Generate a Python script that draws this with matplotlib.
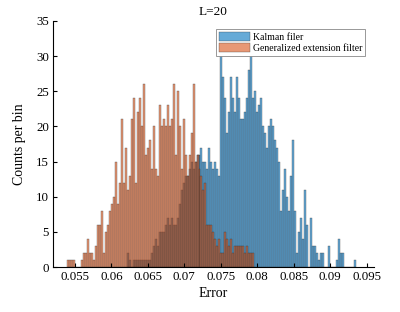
import matplotlib
matplotlib.use('Agg')
import matplotlib.pyplot as plt
import numpy as np

plt.rcParams['font.family'] = ['Liberation Serif', 'DejaVu Serif']

# histogram bins (both series share the same bin grid)
bin_start = 0.05386
bin_width = 0.000274

# Generalized extension filter counts, bins 0..93
gef_counts = [1, 1, 1, 1, 0, 0, 0, 1, 2, 2, 4, 2, 2, 1, 3, 6, 6, 8, 2, 5,
              6, 8, 9, 10, 15, 9, 12, 21, 12, 17, 11, 13, 21, 24, 12, 22, 24, 20, 26, 16,
              17, 18, 14, 20, 14, 13, 23, 20, 21, 20, 23, 20, 21, 26, 16, 25, 20, 14, 21, 16,
              13, 16, 19, 26, 15, 16, 14, 13, 11, 12, 6, 6, 6, 5, 4, 3, 4, 2, 2, 5,
              4, 3, 4, 2, 3, 3, 3, 3, 3, 2, 3, 2, 2, 2]
gef_first_bin = 0

# Kalman filer counts, starting at bin 30
kf_counts = [2, 1, 0, 1, 1, 1, 1, 1, 1, 1, 1, 1, 2, 3, 4, 3, 5, 5, 5, 6,
             7, 6, 7, 6, 6, 7, 9, 11, 12, 13, 13, 14, 15, 14, 15, 16, 16, 17, 15, 15,
             14, 17, 15, 14, 15, 14, 13, 32, 27, 24, 19, 22, 27, 24, 22, 27, 24, 21, 21, 22,
             24, 28, 30, 24, 25, 22, 23, 24, 20, 19, 17, 20, 21, 20, 18, 17, 15, 8, 11, 14,
             10, 8, 13, 18, 8, 2, 5, 7, 4, 11, 6, 0, 7, 3, 3, 2, 1, 2, 2, 0,
             0, 3, 0, 0, 0, 1, 4, 2, 2, 0, 0, 0, 0, 0, 1]
kf_first_bin = 30

blue = '#0072BD'
orange = '#D95319'
edge = (0.15, 0.15, 0.15, 0.55)

fig = plt.figure(figsize=(4, 3.12), dpi=100)
ax = fig.add_axes([0.1325, 0.1442, 0.8025, 0.7885])

kf_left = bin_start + bin_width * (kf_first_bin + np.arange(len(kf_counts)))
gef_left = bin_start + bin_width * (gef_first_bin + np.arange(len(gef_counts)))

ax.bar(kf_left, kf_counts, width=bin_width, align='edge', color=blue, alpha=0.6,
       edgecolor=edge, linewidth=0.35, label='Kalman filer')
ax.bar(gef_left, gef_counts, width=bin_width, align='edge', color=orange, alpha=0.6,
       edgecolor=edge, linewidth=0.35, label='Generalized extension filter')

ax.set_xlim(0.052, 0.096)
ax.set_ylim(0, 35)
ax.set_xticks([0.055, 0.06, 0.065, 0.07, 0.075, 0.08, 0.085, 0.09, 0.095])
ax.set_xticklabels(['0.055', '0.06', '0.065', '0.07', '0.075', '0.08', '0.085', '0.09', '0.095'])
ax.set_yticks(range(0, 36, 5))
ax.tick_params(direction='in', length=3, width=0.8, labelsize=9.3, pad=3)
ax.spines['top'].set_visible(False)
ax.spines['right'].set_visible(False)
ax.spines['left'].set_linewidth(0.8)
ax.spines['bottom'].set_linewidth(0.8)

ax.set_xlabel('Error', fontsize=10, labelpad=3)
ax.set_ylabel('Counts per bin', fontsize=10, labelpad=7)
ax.set_title('L=20', fontsize=9.5, pad=4)

leg = ax.legend(loc='upper right', bbox_to_anchor=(0.972, 0.967), borderaxespad=0,
                fontsize=7, fancybox=False, framealpha=1, edgecolor='#888888',
                handlelength=3.2, handleheight=1.0, handletextpad=0.3,
                borderpad=0.3, labelspacing=0.15)
leg.get_frame().set_linewidth(0.6)

fig.savefig('out.png', dpi=100)
